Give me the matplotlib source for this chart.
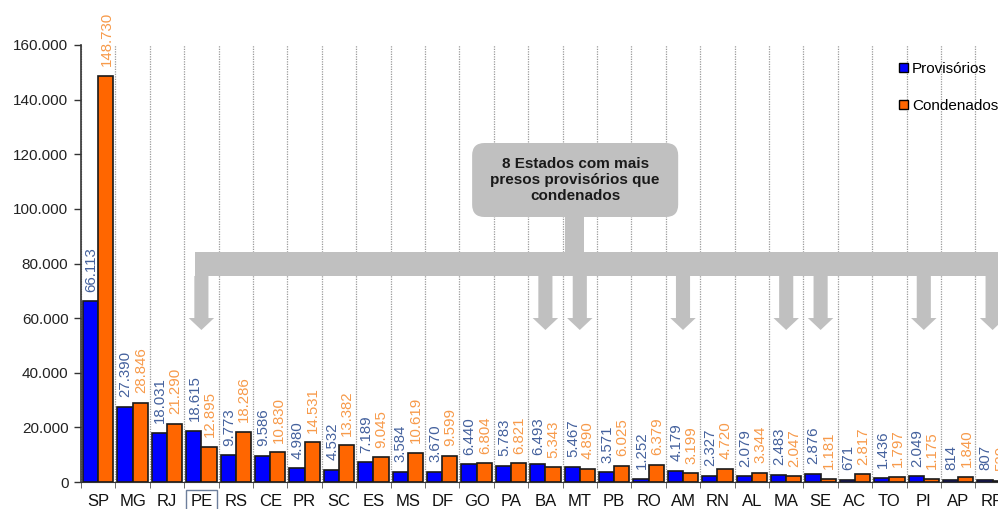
import numpy as np
import matplotlib
matplotlib.use("Agg")
import matplotlib.pyplot as plt
from matplotlib.patches import Rectangle, Polygon, FancyBboxPatch, Patch

plt.rcParams['font.family'] = ['Liberation Sans', 'DejaVu Sans']

# ---- data ----
estados = ["SP", "MG", "RJ", "PE", "RS", "CE", "PR", "SC", "ES", "MS", "DF", "GO", "PA",
           "BA", "MT", "PB", "RO", "AM", "RN", "AL", "MA", "SE", "AC", "TO", "PI", "AP", "RR"]
provisorios = [66113, 27390, 18031, 18615, 9773, 9586, 4980, 4532, 7189, 3584, 3670, 6440, 5783,
               6493, 5467, 3571, 1252, 4179, 2327, 2079, 2483, 2876, 671, 1436, 2049, 814, 807]
condenados = [148730, 28846, 21290, 12895, 18286, 10830, 14531, 13382, 9045, 10619, 9599, 6804, 6821,
              5343, 4890, 6025, 6379, 3199, 4720, 3344, 2047, 1181, 2817, 1797, 1175, 1840, 529]
yticks = [0, 20000, 40000, 60000, 80000, 100000, 120000, 140000, 160000]
nota = "8 Estados com mais\npresos provisórios que\ncondenados"
destaques = [e for e, p, c in zip(estados, provisorios, condenados) if p > c]

def fmt(v):
    return f"{v:,}".replace(",", ".")

W, H = 998, 509
fig = plt.figure(figsize=(W / 100, H / 100), dpi=100)
ax = fig.add_axes([81 / W, 27 / H, 928.8 / W, 437 / H])

x = np.arange(len(estados))
bw = 0.44
blue, orange = "#0000FF", "#FF6600"
ax.bar(x - bw / 2, provisorios, bw, color=blue, edgecolor="#1a1a1a", linewidth=1.2, zorder=3)
ax.bar(x + bw / 2, condenados, bw, color=orange, edgecolor="#1a1a1a", linewidth=1.2, zorder=3)

for xi, p, c in zip(x, provisorios, condenados):
    ax.annotate(fmt(p), (xi - bw / 2, p), xytext=(0.5, 7), textcoords="offset points",
                rotation=90, ha="center", va="bottom", fontsize=10.8, color="#44619D", zorder=5)
    ax.annotate(fmt(c), (xi + bw / 2, c), xytext=(0.5, 7), textcoords="offset points",
                rotation=90, ha="center", va="bottom", fontsize=10.8, color="#F79A4A", zorder=5)

ax.set_xlim(-0.5, len(estados) - 0.5)
ax.set_ylim(0, 160000)
ax.set_yticks(yticks)
ax.set_yticklabels([fmt(v) for v in yticks], fontsize=11, color="#222222")
ax.set_xticks(x)
ax.set_xticklabels(estados, fontsize=12, color="#111111")
ax.set_xticks(np.arange(-0.5, len(estados), 1), minor=True)
ax.grid(axis="x", which="minor", color="#9a9a9a", linestyle=(0, (1, 1)), linewidth=0.9, zorder=0)
ax.tick_params(axis="x", which="major", length=0, pad=9)
ax.tick_params(axis="x", which="minor", length=4, color="#555555", direction="out")
ax.tick_params(axis="y", length=5, width=1, color="#333333", pad=4)
for s in ["top", "right"]:
    ax.spines[s].set_visible(False)
ax.spines["left"].set_color("#333333")
ax.spines["left"].set_linewidth(1.2)
ax.spines["bottom"].set_color("#333333")
ax.spines["bottom"].set_linestyle((0, (1, 1)))

# highlight PE label
for lbl in ax.get_xticklabels():
    if lbl.get_text() == "PE":
        lbl.set_bbox(dict(facecolor="none", edgecolor="#6d7f9c", linewidth=1.0,
                          boxstyle="square,pad=0.25"))

# ---- annotation callout ----
gray = "#C0C0C0"
px = lambda py: (482 - py) * 160000 / 437  # helper for vertical extents of callout
band_top, band_bot = px(252), px(276)
head_y, tip_y = px(318), px(330)
idx = [estados.index(e) for e in destaques]
x_left = idx[0] - 0.2
ax.add_patch(Rectangle((x_left, band_bot), 40, band_top - band_bot, color=gray, lw=0, zorder=4))
sw, hw = 0.41, 0.74
for i in idx:
    pts = [(i - sw / 2, band_bot + 1), (i + sw / 2, band_bot + 1), (i + sw / 2, head_y),
           (i + hw / 2, head_y), (i, tip_y), (i - hw / 2, head_y), (i - sw / 2, head_y)]
    ax.add_patch(Polygon(pts, closed=True, color=gray, lw=0, zorder=4))
bx0, bx1 = 10.87, 16.86
by0, by1 = px(217), px(143)
cx0, cx1 = 13.58, 14.13
ax.add_patch(Rectangle((cx0, band_top - 1), cx1 - cx0, by0 - band_top + 2, color=gray, lw=0, zorder=4))
aspect = (160000 / 437) * 34.4
ax.add_patch(FancyBboxPatch((bx0, by0), bx1 - bx0, by1 - by0,
                            boxstyle="round,pad=0,rounding_size=0.36",
                            mutation_aspect=aspect, facecolor=gray, edgecolor="none", zorder=4))
ax.text((bx0 + bx1) / 2, (by0 + by1) / 2, nota, ha="center", va="center", fontsize=11,
        fontweight="bold", color="#1a1a1a", linespacing=1.2, zorder=6)

# ---- legend ----
handles = [Patch(facecolor=blue, edgecolor="black", linewidth=1.0, label="Provisórios"),
           Patch(facecolor=orange, edgecolor="black", linewidth=1.0, label="Condenados")]
fig.legend(handles=handles, loc="upper left", bbox_to_anchor=(899 / W, 1 - 62 / H),
           frameon=False, fontsize=11, handlelength=0.6, handleheight=0.6,
           handletextpad=0.25, labelspacing=1.5, borderpad=0, borderaxespad=0)

fig.savefig("out.png", dpi=100)
